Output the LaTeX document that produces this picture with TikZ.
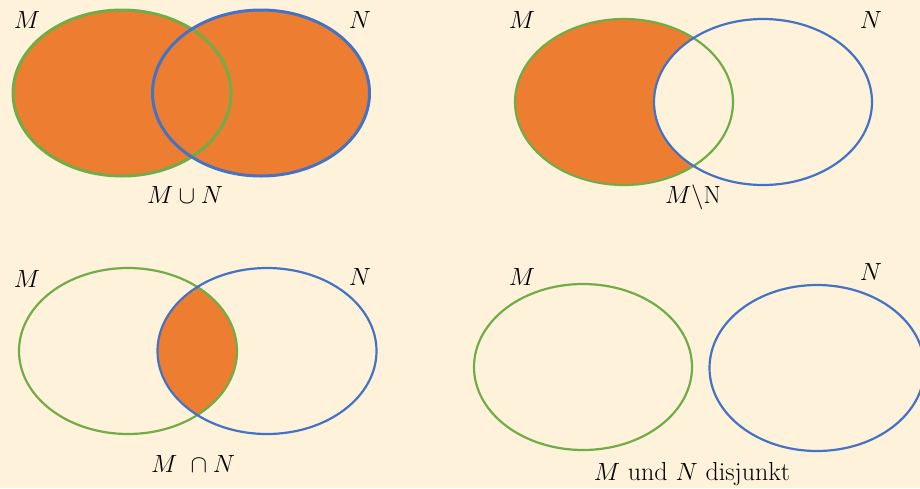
\documentclass[tikz,border=0pt]{standalone}
\usepackage{amsmath,amssymb}
\usepackage{tikz}
\definecolor{cream}{HTML}{FFF2DB}
\definecolor{venngreen}{HTML}{70AD47}
\definecolor{vennblue}{HTML}{4472C4}
\definecolor{vennorange}{HTML}{ED7D31}
\tikzset{
  lab/.style={anchor=base, inner sep=0pt, font=\fontsize{26}{30}\selectfont},
  setM/.style={draw=venngreen, line width=2.2pt},
  setN/.style={draw=vennblue, line width=2.2pt}
}
\begin{document}
\begin{tikzpicture}[x=1pt, y=-1pt, line cap=round, line join=round]
\fill[cream] (0,0) rectangle (920,488);
\useasboundingbox (0,0) rectangle (920,488);

% M u N
\fill[vennorange] (122,93) ellipse (109 and 83);
\fill[vennorange] (261,93) ellipse (108.5 and 83);
\draw[setM, line width=3pt] (122,93) ellipse (109 and 83);
\draw[setN, line width=3pt] (261,93) ellipse (108.5 and 83);
\node[lab] (uM) at (27,28) {$M$};
\node[lab] (uN) at (360,28) {$N$};
\node[lab] (uT) at (185,203) {$M \cup N$};

% M \ N
\fill[vennorange] (624,102) ellipse (109 and 83);
\fill[cream] (763,102) ellipse (109 and 83);
\draw[setM] (624,102) ellipse (109 and 83);
\draw[setN] (763,102) ellipse (109 and 83);
\node[lab] (dM) at (522,28) {$M$};
\node[lab] (dN) at (871,28) {$N$};
\node[lab] (dT) at (693,203) {$M\backslash\mathrm{N}$};

% M n N
\begin{scope}
\clip (128,351) ellipse (109 and 83);
\fill[vennorange] (267,351) ellipse (109.5 and 83);
\end{scope}
\draw[setM] (128,351) ellipse (109 and 83);
\draw[setN] (267,351) ellipse (109.5 and 83);
\node[lab] (iM) at (27,287) {$M$};
\node[lab] (iN) at (360,285) {$N$};
\node[lab] (iT) at (193,472) {$M\ \cap N$};

% disjunkt
\draw[setM] (583,367) ellipse (109 and 83);
\draw[setN] (817,368) ellipse (107.5 and 83);
\node[lab] (jM) at (522,285) {$M$};
\node[lab] (jN) at (871,280) {$N$};
\node[lab] (jT) at (692,480) {$M$ und $N$ disjunkt};
\end{tikzpicture}
\end{document}
